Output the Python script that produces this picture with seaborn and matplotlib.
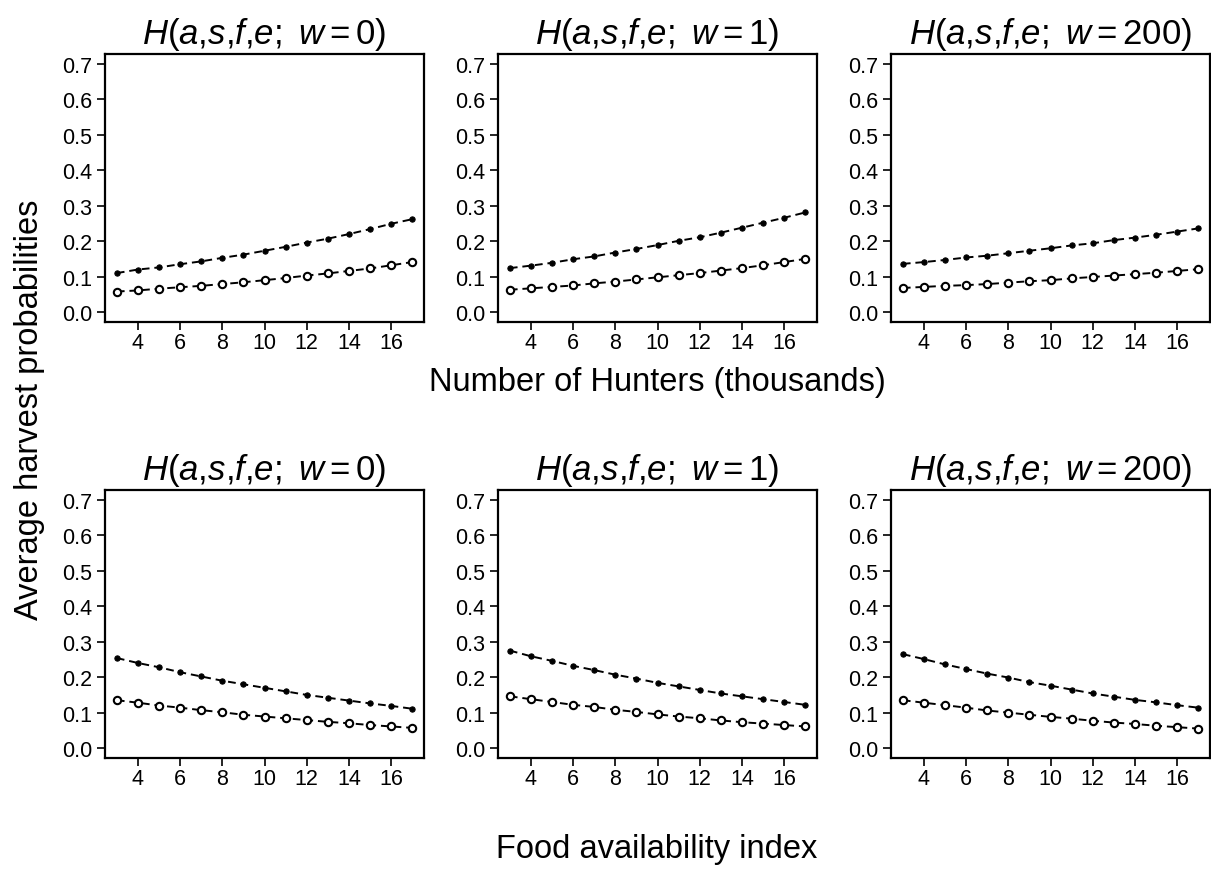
import numpy as np
import pandas as pd
import seaborn as sns
import matplotlib
matplotlib.use("Agg")
import matplotlib.pyplot as plt

# ---------------- data ----------------
x_vals = list(range(3, 18))
w_labels = ["0", "1", "200"]

# top row: Number of Hunters (thousands)
hunt_w0_filled = [0.110, 0.120, 0.126, 0.135, 0.143, 0.153, 0.162, 0.173, 0.184, 0.196, 0.207, 0.220, 0.234, 0.249, 0.262]
hunt_w0_open   = [0.058, 0.061, 0.066, 0.070, 0.074, 0.079, 0.084, 0.090, 0.096, 0.103, 0.109, 0.116, 0.123, 0.132, 0.141]
hunt_w1_filled = [0.124, 0.131, 0.139, 0.149, 0.157, 0.168, 0.178, 0.189, 0.201, 0.211, 0.224, 0.238, 0.252, 0.266, 0.281]
hunt_w1_open   = [0.063, 0.067, 0.071, 0.075, 0.081, 0.086, 0.092, 0.098, 0.104, 0.110, 0.117, 0.124, 0.132, 0.141, 0.150]
hunt_w200_filled = [0.136, 0.141, 0.147, 0.154, 0.159, 0.166, 0.173, 0.180, 0.188, 0.194, 0.203, 0.210, 0.218, 0.227, 0.236]
hunt_w200_open   = [0.068, 0.071, 0.074, 0.076, 0.079, 0.083, 0.087, 0.090, 0.095, 0.099, 0.103, 0.107, 0.111, 0.116, 0.121]

# bottom row: Food availability index
food_w0_filled = [0.254, 0.240, 0.228, 0.214, 0.202, 0.190, 0.180, 0.170, 0.160, 0.150, 0.142, 0.134, 0.126, 0.119, 0.111]
food_w0_open   = [0.135, 0.128, 0.120, 0.114, 0.107, 0.101, 0.094, 0.089, 0.084, 0.079, 0.074, 0.070, 0.065, 0.061, 0.057]
food_w1_filled = [0.275, 0.259, 0.246, 0.232, 0.220, 0.207, 0.196, 0.184, 0.174, 0.164, 0.154, 0.146, 0.138, 0.130, 0.122]
food_w1_open   = [0.146, 0.138, 0.130, 0.122, 0.116, 0.108, 0.102, 0.095, 0.089, 0.084, 0.078, 0.073, 0.069, 0.065, 0.061]
food_w200_filled = [0.265, 0.251, 0.236, 0.223, 0.210, 0.199, 0.186, 0.176, 0.165, 0.154, 0.145, 0.136, 0.129, 0.121, 0.114]
food_w200_open   = [0.135, 0.128, 0.121, 0.114, 0.106, 0.100, 0.094, 0.088, 0.083, 0.077, 0.072, 0.068, 0.063, 0.059, 0.055]

y_ticks = [0.0, 0.1, 0.2, 0.3, 0.4, 0.5, 0.6, 0.7]
x_ticks = [4, 6, 8, 10, 12, 14, 16]

rows = [
    [(hunt_w0_filled, hunt_w0_open), (hunt_w1_filled, hunt_w1_open), (hunt_w200_filled, hunt_w200_open)],
    [(food_w0_filled, food_w0_open), (food_w1_filled, food_w1_open), (food_w200_filled, food_w200_open)],
]

# ---------------- style ----------------
sns.set_theme(style="ticks")
plt.rcParams["font.family"] = ["Liberation Sans", "DejaVu Sans"]
plt.rcParams["mathtext.fontset"] = "custom"
plt.rcParams["mathtext.rm"] = "Liberation Sans"
plt.rcParams["mathtext.it"] = "Liberation Sans:italic"
plt.rcParams["mathtext.bf"] = "Liberation Sans:bold"
plt.rcParams["text.color"] = "black"
plt.rcParams["axes.labelcolor"] = "black"
plt.rcParams["xtick.color"] = "black"
plt.rcParams["ytick.color"] = "black"

W, H = 1211, 878
fig = plt.figure(figsize=(W / 100, H / 100), dpi=100)

lefts = [105, 498, 891]
width = 319
tops = [55, 491]
height = 268

dash = (0, (4, 2.5))
for r in range(2):
    for c in range(3):
        ax = fig.add_axes([lefts[c] / W, 1 - (tops[r] + height) / H, width / W, height / H])
        filled, opened = rows[r][c]
        df = pd.DataFrame({"x": x_vals, "filled": filled, "open": opened})
        sns.lineplot(data=df, x="x", y="filled", ax=ax, color="black", linestyle=dash,
                     linewidth=1.4, marker="o", markersize=3.8, markerfacecolor="black",
                     markeredgecolor="black")
        sns.lineplot(data=df, x="x", y="open", ax=ax, color="black", linestyle=dash,
                     linewidth=1.4, marker="o", markersize=5.3, markerfacecolor="white",
                     markeredgecolor="black", markeredgewidth=1.5)
        ax.set_xlim(2.44, 17.56)
        ax.set_ylim(-0.028, 0.728)
        ax.set_xticks(x_ticks)
        ax.set_yticks(y_ticks)
        ax.set_yticklabels([f"{v:.1f}" for v in y_ticks])
        ax.set_xlabel("")
        ax.set_ylabel("")
        for s in ax.spines.values():
            s.set_visible(True)
            s.set_linewidth(1.6)
            s.set_color("black")
        ax.tick_params(direction="out", length=6, width=1.2, color="black",
                       labelsize=15.5, pad=3, labelcolor="black")
        ax.tick_params(axis="x", pad=1.5)
        ax.set_title(r"$H(a{,}s{,}f{,}e{;}\ w = %s)$" % w_labels[c], fontsize=25, pad=8,
                     color="black")

fig.text(657 / W, 1 - 383 / H, "Number of Hunters (thousands)", ha="center", va="center", fontsize=23.5)
fig.text(657 / W, 1 - 850 / H, "Food availability index", ha="center", va="center", fontsize=23.5)
fig.text(30 / W, 1 - 410 / H, "Average harvest probabilities", ha="center", va="center",
         rotation=90, fontsize=23.5)

fig.savefig("out.png", dpi=100, facecolor="white")
